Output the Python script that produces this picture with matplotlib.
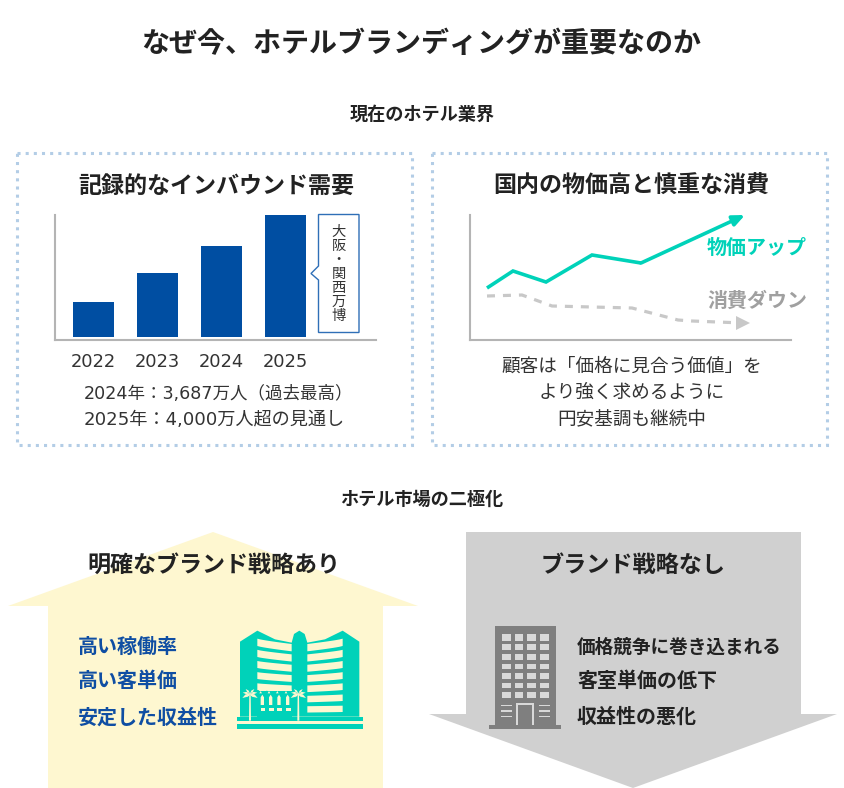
import numpy as np
import matplotlib
matplotlib.use("Agg")
import matplotlib.pyplot as plt
from matplotlib.patches import Polygon, Rectangle

plt.rcParams['font.family'] = ['DejaVu Sans', 'Noto Sans CJK JP']

W, H = 844, 788

# bar panel
years = ['2022', '2023', '2024', '2025']
inbound = [35, 64, 91, 122]

# line panel
price_x = [17, 43, 76, 122, 171, 275]
price_y = [52, 69, 58, 85, 77, 125]
spend_x = [17, 52, 82, 162, 208, 222, 273]
spend_y = [44, 45, 34, 32, 20, 19, 17]

NAVY = '#004ea2'
TEAL = '#00d2b9'
GREY = '#c8c8c8'
AXIS = '#b4b4b4'
CREAM = '#fef7d0'
DARK = '#222222'
BODY = '#333333'
BLUE_TXT = '#0f4ea3'

fig = plt.figure(figsize=(W / 100, H / 100), dpi=100, facecolor='white')
ax = fig.add_axes([0, 0, 1, 1])
ax.set_xlim(0, W)
ax.set_ylim(H, 0)
ax.axis('off')


def px_axes(left, top, right, bottom):
    """Axes placed by pixel edges of the picture."""
    a = fig.add_axes([left / W, 1 - bottom / H, (right - left) / W, (bottom - top) / H])
    a.patch.set_alpha(0)
    for s in ['top', 'right']:
        a.spines[s].set_visible(False)
    for s in ['left', 'bottom']:
        a.spines[s].set_color(AXIS)
        a.spines[s].set_linewidth(1.5)
    a.set_xticks([])
    a.set_yticks([])
    return a


def label(x, y, s, size, color=BODY, weight='normal', ha='center'):
    ax.text(x, y + 1.5, s, fontsize=size, color=color, fontweight=weight, ha=ha, va='center')


# headings
label(421, 42, 'なぜ今、ホテルブランディングが重要なのか', 20.2, DARK, 'bold')
label(422, 113, '現在のホテル業界', 13.1, DARK, 'bold')
label(422, 498, 'ホテル市場の二極化', 13.1, DARK, 'bold')

# dotted cards
for x0 in [17, 432]:
    ax.add_patch(Rectangle((x0, 153), 395, 292, fill=False, edgecolor='#b3cde6',
                           linewidth=2.2, linestyle=(0, (1, 1.67))))
label(216, 185, '記録的なインバウンド需要', 16.6, DARK, 'bold')
label(631, 185, '国内の物価高と慎重な消費', 16.6, DARK, 'bold')

# bar chart
bar_ax = px_axes(55, 215, 376, 340)
bar_ax.bar(range(len(years)), inbound, width=0.64, bottom=3, color=NAVY)
bar_ax.set_xlim(-0.6, 4.42)
bar_ax.set_ylim(0, 125)
bar_ax.set_xticks(range(len(years)))
bar_ax.set_xticklabels(years, fontsize=12.9, color=BODY, x=0)
bar_ax.tick_params(axis='x', length=0, pad=9)
for tick in bar_ax.get_xticklabels():
    tick.set_horizontalalignment('center')

# callout
ax.add_patch(Polygon([(318.5, 214.5), (359, 214.5), (359, 332.5), (318.5, 332.5), (318.5, 280),
                      (311, 273.5), (318.5, 266)], closed=True, facecolor='white',
                     edgecolor='#2f6fb7', linewidth=1))
ax.text(338.5, 274, '大\n阪\n・\n関\n西\n万\n博', fontsize=10.3, color=BODY, ha='center', va='center',
        linespacing=0.99, zorder=5)

label(84, 392, '2024年：3,687万人（過去最高）', 12.6, ha='left')
label(84, 418, '2025年：4,000万人超の見通し', 13.1, ha='left')

# line chart
line_ax = px_axes(470, 215, 791, 340)
line_ax.set_xlim(0, 321)
line_ax.set_ylim(0, 125)
line_ax.plot(price_x[:-1], price_y[:-1], color=TEAL, lw=2.6, solid_joinstyle='miter',
             solid_capstyle='butt')
line_ax.annotate('', xy=(price_x[-1], price_y[-1]), xytext=(price_x[-2], price_y[-2]),
                 annotation_clip=False,
                 arrowprops=dict(arrowstyle='-|>,head_length=0.5,head_width=0.22', color=TEAL,
                                 lw=2.6, shrinkA=0, shrinkB=0, mutation_scale=14))
line_ax.plot(spend_x, spend_y, color=GREY, lw=2.3, linestyle=(0, (2.5, 2.5)))
line_ax.plot(spend_x[-1:], spend_y[-1:], color=GREY, marker='>', ms=10, mew=0, clip_on=False)

label(707, 247, '物価アップ', 14.4, TEAL, 'bold', ha='left')
label(707, 300, '消費ダウン', 14.4, '#a0a0a0', 'bold', ha='left')
label(632, 365, '顧客は「価格に見合う価値」を', 13.4)
label(632, 391, 'より強く求めるように', 13.4)
label(632, 417, '円安基調も継続中', 13.4)

# big arrows
ax.add_patch(Polygon([(213, 532), (418, 606), (383, 606), (383, 788), (48, 788), (48, 606), (8, 606)],
                     closed=True, facecolor=CREAM, edgecolor='none'))
ax.add_patch(Polygon([(466, 532), (801, 532), (801, 714), (837, 714), (633, 788), (429, 714), (466, 714)],
                     closed=True, facecolor='#d0d0d0', edgecolor='none'))
label(214, 564, '明確なブランド戦略あり', 16.6, DARK, 'bold')
label(633, 564, 'ブランド戦略なし', 16.7, DARK, 'bold')

for y, s in zip([646, 680, 716], ['高い稼働率', '高い客単価', '安定した収益性']):
    label(78, y, s, 14.4, BLUE_TXT, 'bold', ha='left')
label(577, 646, '価格競争に巻き込まれる', 13.4, DARK, 'bold', ha='left')
label(577, 680, '客室単価の低下', 14.4, DARK, 'bold', ha='left')
label(577, 716, '収益性の悪化', 14.4, DARK, 'bold', ha='left')


# hotel icon, coordinates in a 3x local grid
def hotel(z):
    return [(200 + px / 3, 610 + py / 3) for px, py in z]


def hotel_shape(z, color=TEAL):
    ax.add_patch(Polygon(hotel(z), closed=True, facecolor=color, edgecolor='none'))


hotel_shape([(120, 95), (172, 62), (225, 88), (275, 98), (282, 72), (298, 62), (314, 72),
             (322, 98), (375, 88), (428, 62), (478, 95), (478, 320), (120, 320)])
hotel_shape([(110, 320), (488, 320), (488, 333), (110, 333)])
hotel_shape([(110, 343), (488, 343), (488, 356), (110, 356)])
t = np.linspace(0, 1, 12)
for i in range(7):
    yl = 86 + 33.5 * i
    drop = 16 - 2.4 * i
    curve = yl + drop * t ** 0.8
    thick = 22 - i * 0.5
    hotel_shape(list(zip(172 + 103 * t, curve)) + list(zip(172 + 103 * t[::-1], curve[::-1] + thick)), CREAM)
    hotel_shape(list(zip(428 - 106 * t, curve)) + list(zip(428 - 106 * t[::-1], curve[::-1] + thick)), CREAM)
hotel_shape([(172, 243), (275, 243), (275, 320), (172, 320)])
for wx in [182, 207, 232, 258]:
    hotel_shape([(wx, 262), (wx + 5, 254), (wx + 10, 262), (wx + 10, 285), (wx, 285)], CREAM)
    hotel_shape([(wx, 293), (wx + 14, 293), (wx + 14, 304), (wx, 304)], CREAM)
    hotel_shape([(wx - 6, 243), (wx + 18, 243), (wx + 14, 236), (wx + 6, 232), (wx, 236)], CREAM)
    hotel_shape([(wx - 4, 250), (wx, 243), (wx + 4, 250)], CREAM)
for px_, py_ in [(150, 250), (295, 250)]:
    hotel_shape([(px_ - 2, py_), (px_ + 2, py_), (px_ + 3, 332), (px_ - 3, 332)], CREAM)
    for dx, dy in [(-23, 14), (-22, -2), (-13, -13), (13, -13), (22, -2), (23, 14), (-10, 12), (10, 12)]:
        nx, ny = -dy * 0.16, dx * 0.16
        hotel_shape([(px_, py_), (px_ + dx * 0.5 + nx, py_ + dy * 0.5 + ny), (px_ + dx, py_ + dy),
                     (px_ + dx * 0.5 - nx, py_ + dy * 0.5 - ny)], CREAM)


# office building icon
def tower(x0, y0, x1, y1, color):
    ax.add_patch(Rectangle((470 + x0 / 3, 610 + y0 / 3), (x1 - x0) / 3, (y1 - y0) / 3,
                           facecolor=color, edgecolor='none'))


tower(75, 47, 257, 345, '#7f7f7f')
tower(58, 345, 272, 356, '#7f7f7f')
for y0, y1 in [(73, 92), (103, 120), (133, 150), (163, 178), (190, 208), (218, 235), (246, 263)]:
    for x0, x1 in [(95, 122), (134, 160), (172, 198), (210, 236)]:
        tower(x0, y0, x1, y1, '#d9d9d9')
tower(137, 278, 192, 345, '#d9d9d9')
tower(145, 285, 185, 345, '#7f7f7f')
for y0 in [284, 300, 317]:
    tower(93, y0, 125, y0 + 5, '#d9d9d9')
    tower(207, y0, 240, y0 + 5, '#d9d9d9')

fig.savefig('out.png', dpi=100)
